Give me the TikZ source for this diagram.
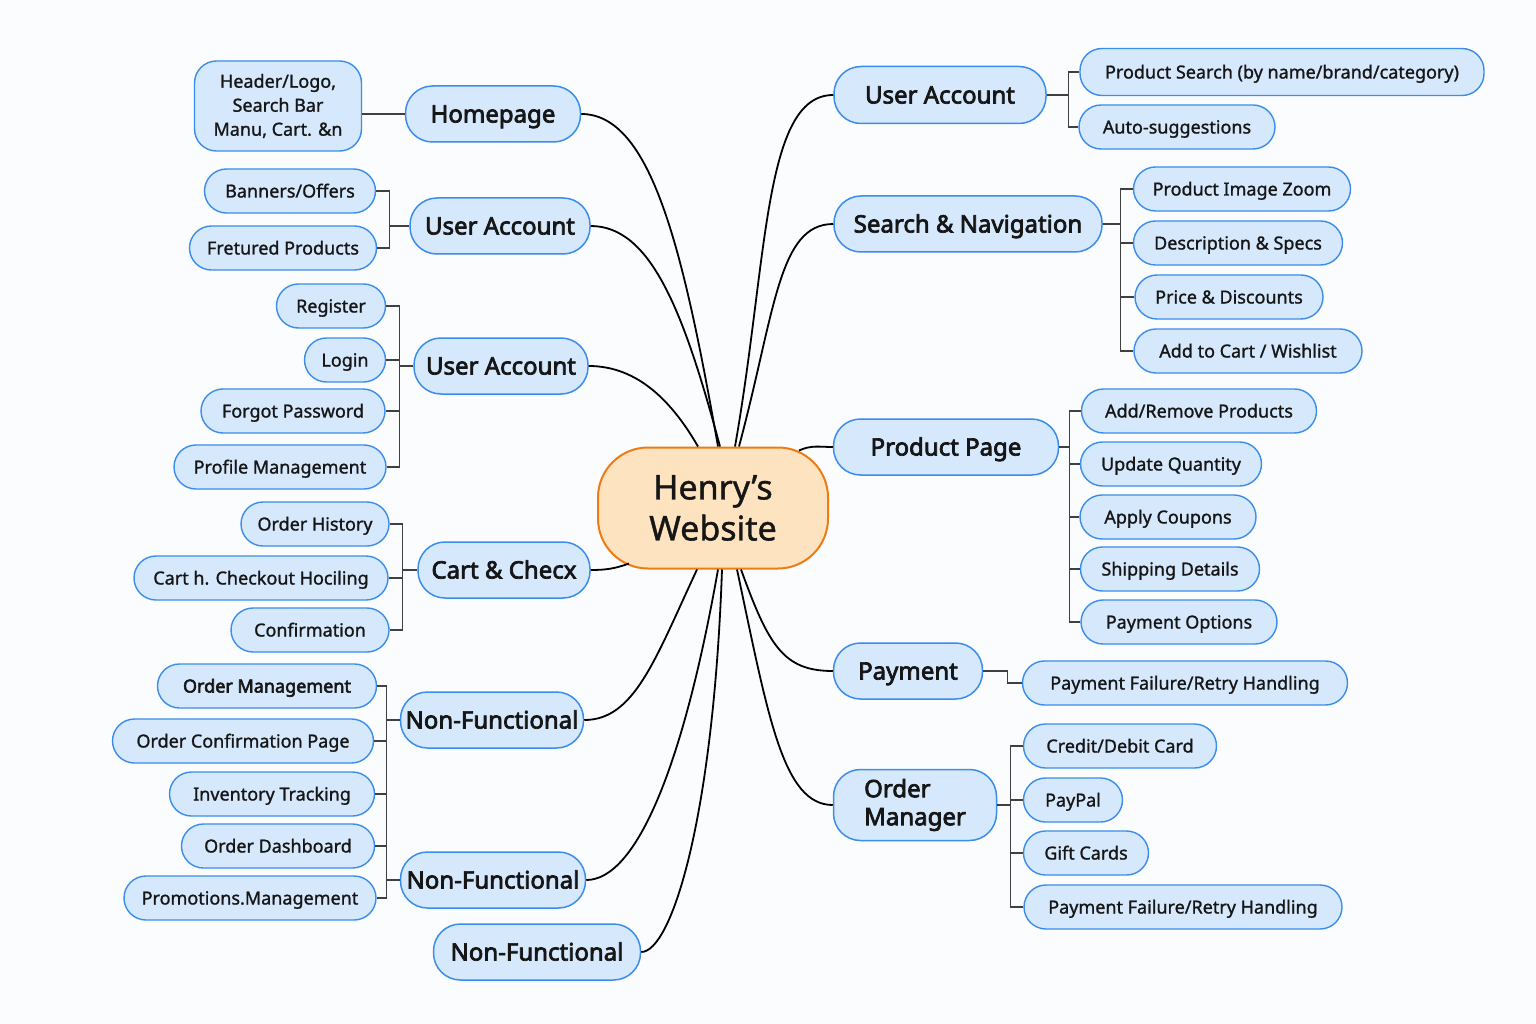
\documentclass[tikz,border=0pt]{standalone}
\usepackage{fontspec}
\setmainfont{Noto Sans}[BoldFont={Noto Sans}, BoldFeatures={FakeBold=3}]
\newfontfamily\medfont{Noto Sans}[FakeBold=1.2, BoldFont={Noto Sans}, BoldFeatures={FakeBold=3}]
\usetikzlibrary{calc}

\definecolor{leaffill}{HTML}{D6E8FC}
\definecolor{leafline}{HTML}{3A8DEB}
\definecolor{hubfill}{HTML}{FDE3C0}
\definecolor{hubline}{HTML}{F07B12}
\definecolor{inkc}{HTML}{161616}
\definecolor{paper}{HTML}{FBFCFD}

\begin{document}
\begin{tikzpicture}[x=1pt, y=1pt,
  hub/.style = {draw=hubline, fill=hubfill, line width=2pt, rounded corners=50pt,
    minimum width=230pt, minimum height=121pt, align=center, text=inkc,
    font=\medfont\fontsize{34}{41}\selectfont},
  branch/.style = {draw=leafline, fill=leaffill, line width=1.5pt, rounded corners=27pt,
    minimum height=56pt, inner sep=0pt, text height=18pt, text depth=1pt, text=inkc,
    font=\fontsize{24}{28}\selectfont\bfseries},
  lf/.style = {draw=leafline, fill=leaffill, line width=1.4pt, rounded corners=22pt,
    minimum height=44pt, inner sep=0pt, text=inkc, font=\medfont\fontsize{18}{24}\selectfont},
  leaf/.style = {lf, text height=14pt, text depth=1pt},
  link/.style = {draw=black, line width=1.8pt},
  brk/.style = {draw=black!75, line width=1.3pt}]

\useasboundingbox (0,0) rectangle (1536,-1024);
\fill[paper] (0,0) rectangle (1536,-1024);

% centre
\node[hub] (cen) at (713,-508) {Henry’s\\Website};

% left branches
\node[branch, minimum width=175pt] (home) at (493,-114) {Homepage};
\node[branch, minimum width=180pt] (ua1) at (500,-226) {User Account};
\node[branch, minimum width=174pt] (ua2) at (501,-366) {User Account};
\node[branch, minimum width=172pt] (cart) at (504,-570) {Cart \& Checx};
\node[branch, minimum width=183pt] (nf1) at (492,-720) {Non-Functional};
\node[branch, minimum width=185pt] (nf2) at (493,-880) {Non-Functional};
\node[branch, minimum width=207pt] (nf3) at (537,-952) {Non-Functional};

% right branches
\node[branch, minimum width=212pt, minimum height=57pt] (uar) at (940,-95) {User Account};
\node[branch, minimum width=268pt] (sn) at (968,-224) {Search \& Navigation};
\node[branch, minimum width=225pt] (pp) at (946,-447) {Product Page};
\node[branch, minimum width=149pt] (pay) at (908,-671) {Payment};
\node[draw=leafline, fill=leaffill, line width=1.5pt, rounded corners=27pt, inner sep=0pt,
  minimum width=163pt, minimum height=71pt, align=left, text=inkc,
  font=\fontsize{24}{28}\selectfont\bfseries] (om) at (915,-805) {Order\\Manager};

% left leaves
\node[lf, minimum width=167pt, minimum height=90pt, align=center] (hdr) at (278,-106)
  {Header/Logo,\\Search Bar\\Manu, Cart. \&n};
\node[leaf, minimum width=171pt] (ban) at (290,-191) {Banners/Offers};
\node[leaf, minimum width=187pt] (fret) at (283,-248) {Fretured Products};
\node[leaf, minimum width=109pt] (reg) at (331,-306) {Register};
\node[leaf, minimum width=81pt] (login) at (345,-360) {Login};
\node[leaf, minimum width=184pt] (forgot) at (293,-411) {Forgot Password};
\node[leaf, minimum width=212pt] (profile) at (280,-467) {Profile Management};
\node[leaf, minimum width=148pt] (ohist) at (315,-524) {Order History};
\node[leaf, minimum width=254pt] (cartck) at (261,-578) {Cart h. Checkout Hociling};
\node[leaf, minimum width=158pt] (conf) at (310,-630) {Confirmation};
\node[leaf, minimum width=219pt, font=\medfont\fontsize{18}{24}\selectfont\bfseries] (omgmt) at (267,-686) {Order Management};
\node[leaf, minimum width=261pt] (ocp) at (243,-741) {Order Confirmation Page};
\node[leaf, minimum width=205pt] (inv) at (272,-794) {Inventory Tracking};
\node[leaf, minimum width=193pt] (odash) at (278,-846) {Order Dashboard};
\node[leaf, minimum width=252pt] (promo) at (250,-898) {Promotions.Management};

% right leaves
\node[leaf, minimum width=404pt, minimum height=47pt] (psearch) at (1282,-72) {Product Search (by name/brand/category)};
\node[leaf, minimum width=196pt] (auto) at (1177,-127) {Auto-suggestions};
\node[leaf, minimum width=217pt] (pizoom) at (1242,-189) {Product Image Zoom};
\node[leaf, minimum width=209pt] (desc) at (1238,-243) {Description \& Specs};
\node[leaf, minimum width=188pt] (price) at (1229,-297) {Price \& Discounts};
\node[leaf, minimum width=228pt] (addcart) at (1248,-351) {Add to Cart / Wishlist};
\node[leaf, minimum width=235pt] (addrem) at (1199,-411) {Add/Remove Products};
\node[leaf, minimum width=181pt] (upq) at (1171,-464) {Update Quantity};
\node[leaf, minimum width=176pt] (coup) at (1168,-517) {Apply Coupons};
\node[leaf, minimum width=179pt] (ship) at (1170,-569) {Shipping Details};
\node[leaf, minimum width=196pt] (popt) at (1179,-622) {Payment Options};
\node[leaf, minimum width=325pt] (pfail1) at (1185,-683) {Payment Failure/Retry Handling};
\node[leaf, minimum width=193pt] (credit) at (1120,-746) {Credit/Debit Card};
\node[leaf, minimum width=99pt] (paypal) at (1073,-800) {PayPal};
\node[leaf, minimum width=125pt] (gift) at (1086,-853) {Gift Cards};
\node[leaf, minimum width=318pt] (pfail2) at (1183,-907) {Payment Failure/Retry Handling};

% curves to the centre
\draw[link] (home.east) to[out=0, in=100, out distance=70pt, in distance=200pt] ($(cen.north)+(5,0)$);
\draw[link] (ua1.east) to[out=0, in=105, out distance=60pt, in distance=140pt] ($(cen.north)+(7,0)$);
\draw[link] (ua2.east) to[out=0, in=120, out distance=50pt, in distance=50pt] ($(cen.north)+(-15,0)$);
\draw[link] (uar.west) to[out=180, in=80, out distance=70pt, in distance=190pt] ($(cen.north)+(22,0)$);
\draw[link] (sn.west) to[out=180, in=75, out distance=55pt, in distance=140pt] ($(cen.north)+(26,0)$);
\draw[link] (pp.west) to[out=180, in=25] ($(cen.north)+(86,-4)$);
\draw[link] (cart.east) to[out=0, in=200] ($(cen.south)+(-84,6)$);
\draw[link] (nf1.east) to[out=0, in=-115, out distance=50pt, in distance=100pt] ($(cen.south)+(-16,0)$);
\draw[link] (nf2.east) to[out=0, in=-100, out distance=50pt, in distance=200pt] ($(cen.south)+(5,0)$);
\draw[link] (nf3.east) to[out=0, in=-92, out distance=30pt, in distance=250pt] ($(cen.south)+(9,0)$);
\draw[link] (pay.west) to[out=180, in=-70, out distance=50pt, in distance=80pt] ($(cen.south)+(28,0)$);
\draw[link] (om.west) to[out=180, in=-78, out distance=50pt, in distance=150pt] ($(cen.south)+(24,0)$);

% brackets
\draw[brk] (hdr.east |- home.west) -- (home.west);
\draw[brk] (ua1.west) -- ++(-20,0) coordinate (j1);
\foreach \n in {ban,fret} \draw[brk] (\n.east) -| (j1);
\draw[brk] (ua2.west) -- ++(-14,0) coordinate (j2);
\foreach \n in {reg,login,forgot,profile} \draw[brk] (\n.east) -| (j2);
\draw[brk] (cart.west) -- ++(-15,0) coordinate (j3);
\foreach \n in {ohist,cartck,conf} \draw[brk] (\n.east) -| (j3);
\draw[brk] (nf1.west) -- ++(-13,0) coordinate (j4);
\draw[brk] (nf2.west) -- ++(-13,0);
\foreach \n in {omgmt,ocp,inv,odash,promo} \draw[brk] (\n.east) -| (j4);

\draw[brk] (uar.east) -- ++(22,0) coordinate (j5);
\foreach \n in {psearch,auto} \draw[brk] (\n.west) -| (j5);
\draw[brk] (sn.east) -- ++(18,0) coordinate (j6);
\foreach \n in {pizoom,desc,price,addcart} \draw[brk] (\n.west) -| (j6);
\draw[brk] (pp.east) -- ++(10,0) coordinate (j7);
\foreach \n in {addrem,upq,coup,ship,popt} \draw[brk] (\n.west) -| (j7);
\draw[brk] (pay.east) -- ++(24,0) |- (pfail1.west);
\draw[brk] (om.east) -- ++(13,0) coordinate (j8);
\foreach \n in {credit,paypal,gift,pfail2} \draw[brk] (\n.west) -| (j8);
\end{tikzpicture}
\end{document}
